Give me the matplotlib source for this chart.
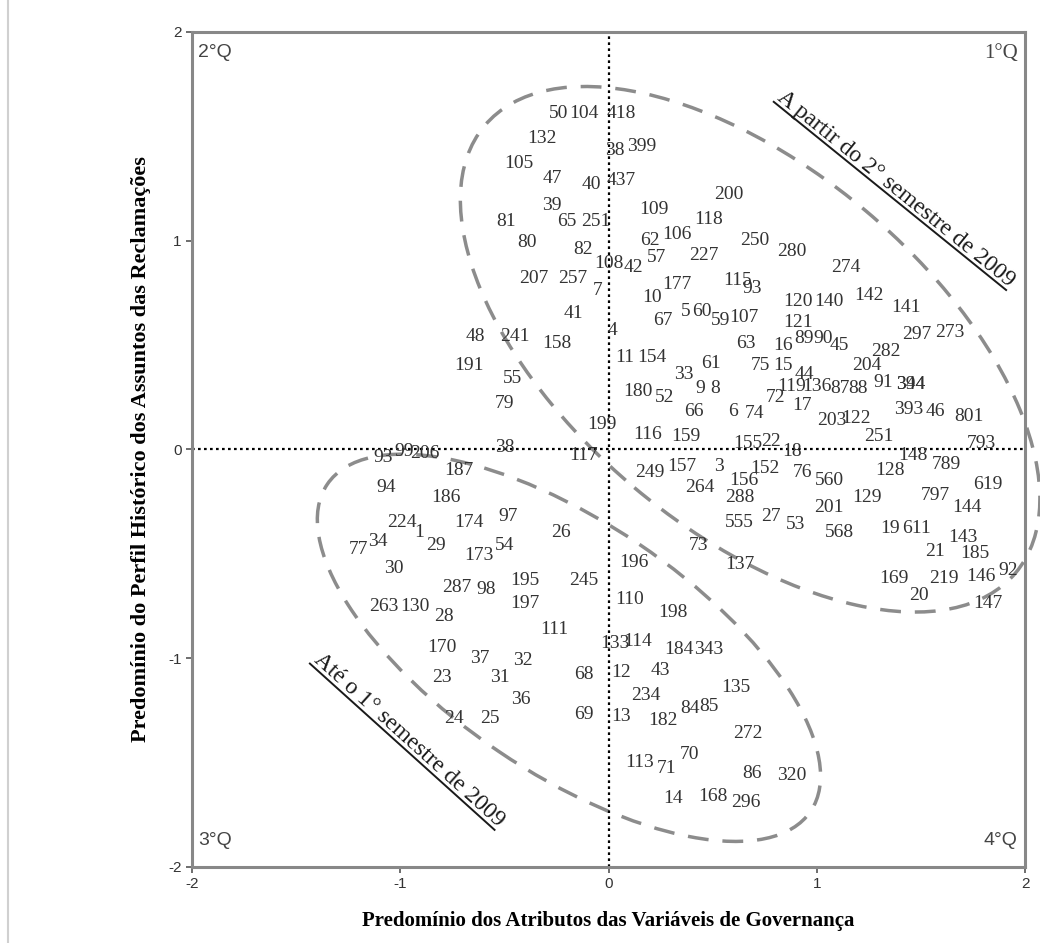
import numpy as np
import matplotlib.pyplot as plt
from matplotlib.patches import Ellipse
from matplotlib.lines import Line2D
from matplotlib.transforms import Affine2D

plt.rcParams['axes.unicode_minus'] = False

# point labels and their scores on the two dimensions
labels = ['50', '104', '418', '132', '38', '399', '105', '47', '40', '437',
          '39', '65', '251', '81', '80', '82', '108', '42', '207', '257',
          '7', '41', '158', '4', '109', '200', '118', '62', '106', '57',
          '227', '250', '280', '274', '142', '141', '10', '177', '115', '93',
          '120', '140', '67', '5', '60', '59', '107', '121', '16', '89',
          '90', '45', '63', '75', '15', '44', '119', '136', '87', '88',
          '72', '17', '204', '282', '297', '273', '91', '394', '344', '203',
          '122', '393', '46', '801', '251', '148', '793', '789', '128', '619',
          '560', '129', '797', '144', '201', '568', '19', '611', '143', '21',
          '185', '169', '219', '146', '92', '20', '147',
          '48', '241', '191', '55', '79', '199', '116', '159', '180', '52',
          '11', '154', '33', '61', '9', '8', '66', '6', '74', '155',
          '22', '18', '157', '3', '152', '76', '156', '288', '264', '249',
          '555', '27', '53', '73', '137', '196', '117', '38', '93', '99',
          '206', '187', '94', '186', '174', '97', '224', '1', '29', '34',
          '77', '173', '54', '26', '30', '287', '98', '195', '245', '197',
          '263', '130', '28', '111', '110', '198', '170', '37', '32', '31',
          '23', '68', '133', '114', '184', '343', '12', '43', '135', '234',
          '84', '85', '182', '13', '36', '24', '25', '69', '272', '113',
          '71', '70', '86', '320', '14', '168', '296']
xs = [-0.24, -0.12, 0.06, -0.32, 0.03, 0.16, -0.43, -0.27, -0.08, 0.06,
      -0.27, -0.20, -0.06, -0.49, -0.39, -0.12, 0.00, 0.12, -0.36, -0.17,
      -0.05, -0.17, -0.25, 0.02, 0.22, 0.58, 0.48, 0.20, 0.33, 0.23,
      0.46, 0.70, 0.88, 1.14, 1.25, 1.43, 0.21, 0.33, 0.62, 0.69,
      0.91, 1.06, 0.26, 0.37, 0.45, 0.54, 0.65, 0.91, 0.84, 0.94,
      1.03, 1.11, 0.66, 0.73, 0.84, 0.94, 0.88, 1.00, 1.11, 1.20,
      0.80, 0.93, 1.24, 1.33, 1.48, 1.64, 1.32, 1.45, 1.45, 1.07,
      1.19, 1.44, 1.57, 1.73, 1.30, 1.46, 1.79, 1.62, 1.35, 1.82,
      1.06, 1.24, 1.57, 1.72, 1.06, 1.11, 1.35, 1.48, 1.70, 1.57,
      1.76, 1.37, 1.61, 1.79, 1.92, 1.49, 1.82,
      -0.64, -0.45, -0.67, -0.46, -0.50, -0.03, 0.19, 0.37, 0.14, 0.27,
      0.08, 0.21, 0.36, 0.49, 0.44, 0.51, 0.41, 0.60, 0.70, 0.67,
      0.78, 0.88, 0.35, 0.53, 0.75, 0.93, 0.65, 0.63, 0.44, 0.20,
      0.63, 0.78, 0.90, 0.43, 0.63, 0.12, -0.12, -0.50, -1.08, -0.98,
      -0.88, -0.72, -1.07, -0.78, -0.67, -0.48, -0.99, -0.91, -0.83, -1.11,
      -1.20, -0.62, -0.50, -0.23, -1.03, -0.73, -0.59, -0.40, -0.12, -0.40,
      -1.08, -0.93, -0.79, -0.26, 0.10, 0.31, -0.80, -0.62, -0.41, -0.52,
      -0.80, -0.12, 0.03, 0.14, 0.34, 0.48, 0.06, 0.25, 0.61, 0.18,
      0.39, 0.48, 0.26, 0.06, -0.42, -0.74, -0.57, -0.12, 0.67, 0.15,
      0.28, 0.39, 0.69, 0.88, 0.31, 0.50, 0.66]
ys = [1.61, 1.61, 1.61, 1.49, 1.43, 1.45, 1.37, 1.30, 1.27, 1.29,
      1.17, 1.09, 1.09, 1.09, 0.99, 0.96, 0.89, 0.87, 0.82, 0.82,
      0.76, 0.65, 0.51, 0.57, 1.15, 1.22, 1.10, 1.00, 1.03, 0.92,
      0.93, 1.00, 0.95, 0.87, 0.74, 0.68, 0.73, 0.79, 0.81, 0.77,
      0.71, 0.71, 0.62, 0.66, 0.66, 0.62, 0.63, 0.61, 0.50, 0.53,
      0.53, 0.50, 0.51, 0.40, 0.40, 0.36, 0.30, 0.30, 0.29, 0.29,
      0.25, 0.21, 0.40, 0.47, 0.55, 0.56, 0.32, 0.31, 0.31, 0.14,
      0.15, 0.19, 0.18, 0.16, 0.06, -0.03, 0.03, -0.07, -0.10, -0.17,
      -0.15, -0.23, -0.22, -0.28, -0.28, -0.40, -0.38, -0.38, -0.42, -0.49,
      -0.50, -0.62, -0.62, -0.61, -0.58, -0.70, -0.74,
      0.54, 0.54, 0.40, 0.34, 0.22, 0.12, 0.07, 0.06, 0.28, 0.25,
      0.44, 0.44, 0.36, 0.41, 0.29, 0.29, 0.18, 0.18, 0.17, 0.03,
      0.04, -0.01, -0.08, -0.08, -0.09, -0.11, -0.15, -0.23, -0.18, -0.11,
      -0.35, -0.32, -0.36, -0.46, -0.55, -0.54, -0.03, 0.01, -0.04, -0.01,
      -0.02, -0.10, -0.18, -0.23, -0.35, -0.32, -0.35, -0.40, -0.46, -0.44,
      -0.48, -0.51, -0.46, -0.40, -0.57, -0.66, -0.67, -0.63, -0.63, -0.74,
      -0.75, -0.75, -0.80, -0.86, -0.72, -0.78, -0.95, -1.00, -1.01, -1.09,
      -1.09, -1.08, -0.93, -0.92, -0.96, -0.96, -1.07, -1.06, -1.14, -1.18,
      -1.24, -1.23, -1.30, -1.28, -1.20, -1.29, -1.29, -1.27, -1.36, -1.50,
      -1.53, -1.46, -1.55, -1.56, -1.67, -1.66, -1.69]

serif = ['Liberation Serif', 'DejaVu Serif']
sans = ['Liberation Sans', 'DejaVu Sans']

fig = plt.figure(figsize=(10.4, 9.43), dpi=100)
ax = fig.add_axes([0.1846, 0.0806, 0.801, 0.8855])
ax.set_xlim(-2, 2)
ax.set_ylim(-2, 2)

# faint frame line on the left edge of the page
fig.add_artist(Line2D([0.008, 0.008], [0, 1], transform=fig.transFigure,
                      color='#d0d0d0', lw=1.5))

for lab, x, y in zip(labels, xs, ys):
    ax.text(x, y, lab, ha='center', va='center', fontsize=14,
            family=serif, color='#333333')

ax.axhline(0, color='black', ls=(0, (1.2, 1.5)), lw=1.6)
ax.axvline(0, color='black', ls=(0, (1.2, 1.5)), lw=1.6)

# group outlines
ax.add_patch(Ellipse((0.68, 0.48), 3.33, 1.73, angle=-40, fill=False,
                     ec='#8c8c8c', lw=2.5, ls=(0, (6, 4)), clip_on=False))
ax.add_patch(Ellipse((-0.19, -0.95), 2.80, 1.20, angle=-34, fill=False,
                     ec='#8c8c8c', lw=2.5, ls=(0, (6, 4)), clip_on=False))


def underlined(x, y, s, rot, size):
    # rotated text with a line drawn under its baseline
    t = ax.text(x, y, s, ha='center', va='center', fontsize=size,
                family=serif, color='#1a1a1a')
    fig.canvas.draw()
    bb = t.get_window_extent()
    w, h = bb.width, bb.height
    t.set_rotation(rot)
    t.set_rotation_mode('anchor')
    cx, cy = ax.transData.transform((x, y))
    tr = Affine2D().rotate_deg(rot).translate(cx, cy)
    pts = tr.transform([[-w / 2, -h / 2 + 1], [w / 2, -h / 2 + 1]])
    fig.add_artist(Line2D(pts[:, 0], pts[:, 1], color='#1a1a1a', lw=1.4,
                          transform=None))


underlined(1.38, 1.25, 'A partir do 2° semestre de 2009', -39, 17)
underlined(-0.96, -1.39, 'Até o 1° semestre de 2009', -42, 17)

ax.text(0.007, 0.985, '2°Q', transform=ax.transAxes, ha='left', va='top',
        fontsize=14, family=sans, color='#444444')
ax.text(0.991, 0.985, '1°Q', transform=ax.transAxes, ha='right', va='top',
        fontsize=15, family=serif, color='#444444')
ax.text(0.007, 0.022, '3°Q', transform=ax.transAxes, ha='left', va='bottom',
        fontsize=14, family=sans, color='#444444')
ax.text(0.991, 0.022, '4°Q', transform=ax.transAxes, ha='right', va='bottom',
        fontsize=14, family=sans, color='#444444')

ax.set_xticks([-2, -1, 0, 1, 2])
ax.set_yticks([-2, -1, 0, 1, 2])
ax.tick_params(direction='out', length=4, width=1.2, color='#555555',
               labelsize=11, labelcolor='#333333')
for lab in ax.get_xticklabels() + ax.get_yticklabels():
    lab.set_family(sans)
for s in ax.spines.values():
    s.set_color('#888888')
    s.set_linewidth(2.2)

ax.set_xlabel('Predomínio dos Atributos das Variáveis de Governança',
              family=serif, fontweight='bold', fontsize=15, labelpad=14)
ax.set_ylabel('Predomínio do Perfil Histórico dos Assuntos das Reclamações',
              family=serif, fontweight='bold', fontsize=16, labelpad=12)

fig.savefig('out.png', dpi=100)
